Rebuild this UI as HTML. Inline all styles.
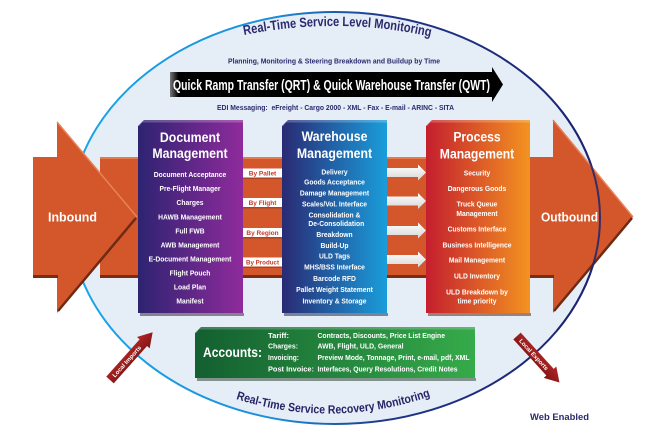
<!DOCTYPE html>
<html><head><meta charset="utf-8">
<style>
html,body{margin:0;padding:0;background:#fff;}
svg{display:block;}
text{font-family:"Liberation Sans",Arial,sans-serif;font-weight:bold;}
</style></head><body>
<svg width="650" height="436" viewBox="0 0 650 436" xmlns="http://www.w3.org/2000/svg">
<defs>
 <linearGradient id="ell" x1="0" y1="0" x2="1" y2="0">
  <stop offset="0" stop-color="#1aa6ea"/>
  <stop offset="0.38" stop-color="#1a8fda"/>
  <stop offset="0.6" stop-color="#1f3489"/>
  <stop offset="1" stop-color="#1b2470"/>
 </linearGradient>
 <linearGradient id="doc" x1="0" x2="1" y1="0" y2="0">
  <stop offset="0" stop-color="#2e2371"/>
  <stop offset="1" stop-color="#8f2b9c"/>
 </linearGradient>
 <linearGradient id="wh" x1="0" x2="1" y1="0" y2="0">
  <stop offset="0" stop-color="#292a74"/>
  <stop offset="1" stop-color="#1a9ddb"/>
 </linearGradient>
 <linearGradient id="pm" x1="0" x2="1" y1="0" y2="0">
  <stop offset="0" stop-color="#c41f2e"/>
  <stop offset="1" stop-color="#f39321"/>
 </linearGradient>
 <linearGradient id="acc" x1="0" x2="1" y1="0" y2="0">
  <stop offset="0" stop-color="#135f30"/>
  <stop offset="1" stop-color="#36ab4a"/>
 </linearGradient>
 <linearGradient id="blk" x1="0" x2="1" y1="0" y2="0">
  <stop offset="0" stop-color="#777"/>
  <stop offset="0.025" stop-color="#000"/>
  <stop offset="1" stop-color="#000"/>
 </linearGradient>
 <linearGradient id="warr" x1="0" y1="0" x2="0" y2="1">
  <stop offset="0" stop-color="#ffffff"/>
  <stop offset="1" stop-color="#d6d6d6"/>
 </linearGradient>
 <linearGradient id="red" x1="0" y1="0" x2="0" y2="1">
  <stop offset="0" stop-color="#b32626"/>
  <stop offset="1" stop-color="#7e1414"/>
 </linearGradient>
 <clipPath id="rclip"><rect x="540" y="110" width="110" height="220"/></clipPath>
 <path id="toparc" d="M244 35 Q340 16 432 37"/>
 <path id="botarc" d="M236 399 Q334 430 434 395"/>
</defs>

<!-- main ellipse -->
<ellipse cx="335" cy="218" rx="265" ry="206" fill="#e5edf6" stroke="url(#ell)" stroke-width="2"/>

<!-- top texts -->
<text font-size="13.5" fill="#2b2a6e"><textPath href="#toparc" textLength="188" lengthAdjust="spacingAndGlyphs">Real-Time Service Level Monitoring</textPath></text>
<text x="228" y="63.5" font-size="7.5" fill="#2b2a6e" textLength="212" lengthAdjust="spacingAndGlyphs">Planning, Monitoring &amp; Steering Breakdown and Buildup by Time</text>

<!-- black arrow -->
<path d="M170 72 H492 V67 L503 84.5 L492 102 V97 H170 Z" fill="url(#blk)"/>
<text x="173" y="90" font-size="14.5" fill="#fff" textLength="317" lengthAdjust="spacingAndGlyphs">Quick Ramp Transfer (QRT) &amp; Quick Warehouse Transfer (QWT)</text>

<text x="217" y="110" font-size="7" fill="#2b2a6e" textLength="237" lengthAdjust="spacingAndGlyphs" xml:space="preserve">EDI Messaging:  eFreight - Cargo 2000 - XML - Fax - E-mail - ARINC - SITA</text>

<!-- orange band & arrows -->
<rect x="100" y="157" width="455" height="120" fill="#d4562b"/>
<rect x="100" y="157" width="455" height="2" fill="#e47a4e"/>
<rect x="100" y="275" width="455" height="3" fill="#7a2d12"/>
<path d="M33 157 H57 V122 L137 217 L57 313 V277 H33 Z" fill="#d4562b"/>
<path d="M57 122 L137 217" stroke="#e8825a" stroke-width="1.5"/>
<path d="M58 311 L136 218" stroke="#6e2a12" stroke-width="2.5"/>
<rect x="33" y="275" width="25" height="3" fill="#7a2d12"/>
<path d="M530 157 H553 V120 L633 217 L553 313 V277 H530 Z" fill="#d4562b"/>
<path d="M553 120 L633 217" stroke="#e8825a" stroke-width="1.5"/>
<path d="M554 311 L632 218" stroke="#6e2a12" stroke-width="2.5"/>
<rect x="530" y="275" width="24" height="3" fill="#7a2d12"/>

<!-- ellipse stroke over outbound arrow -->
<g clip-path="url(#rclip)">
<ellipse cx="335" cy="218" rx="265" ry="206" fill="none" stroke="#1b2470" stroke-width="2" opacity="0.85"/>
</g>

<text x="48" y="221.3" font-size="12.5" fill="#fff" textLength="49" lengthAdjust="spacingAndGlyphs">Inbound</text>
<text x="541" y="221.3" font-size="12.5" fill="#fff" textLength="57" lengthAdjust="spacingAndGlyphs">Outbound</text>

<!-- By labels -->
<g font-size="6.5" fill="#c43a26" text-anchor="middle">
 <rect x="243" y="168.5" width="39" height="9" fill="#fff"/><rect x="243" y="177.5" width="39" height="1.5" fill="#8a3a20" opacity="0.6"/>
 <text x="262.5" y="175.5">By Pallet</text>
 <rect x="243" y="198" width="39" height="9" fill="#fff"/><rect x="243" y="207" width="39" height="1.5" fill="#8a3a20" opacity="0.6"/>
 <text x="262.5" y="205">By Flight</text>
 <rect x="243" y="228" width="39" height="9" fill="#fff"/><rect x="243" y="237" width="39" height="1.5" fill="#8a3a20" opacity="0.6"/>
 <text x="262.5" y="235">By Region</text>
 <rect x="243" y="257.5" width="39" height="9" fill="#fff"/><rect x="243" y="266.5" width="39" height="1.5" fill="#8a3a20" opacity="0.6"/>
 <text x="262.5" y="264.5" textLength="33" lengthAdjust="spacingAndGlyphs">By Product</text>
</g>

<!-- white arrows -->
<g fill="url(#warr)">
 <path d="M387 168 H418 V164.5 L426 172.5 L418 180.5 V177 H387 Z"/>
 <path d="M387 196.5 H418 V193 L426 201 L418 209 V205.5 H387 Z"/>
 <path d="M387 226 H418 V222.5 L426 230.5 L418 238.5 V235 H387 Z"/>
 <path d="M387 255 H418 V251.5 L426 259.5 L418 267.5 V264 H387 Z"/>
</g>

<!-- Document box -->
<rect x="140" y="313" width="104" height="3" fill="#3a2a40" opacity="0.55"/>
<path d="M144 120 H243 V313 H138 V126 Z" fill="url(#doc)"/>
<path d="M144 120 H243 V122.5 H142 L139.5 126 H138 Z" fill="#fff" opacity="0.22"/>
<g transform="translate(190,0) scale(0.88,1)" fill="#fff" text-anchor="middle" font-size="14">
 <text x="0" y="142">Document</text>
 <text x="0" y="158">Management</text>
</g>
<g transform="translate(190,0) scale(0.9,1)" fill="#fff" text-anchor="middle" font-size="7.5">
 <text x="0" y="177">Document Acceptance</text>
 <text x="0" y="191">Pre-Flight Manager</text>
 <text x="0" y="205">Charges</text>
 <text x="0" y="219.4">HAWB Management</text>
 <text x="0" y="233.4">Full FWB</text>
 <text x="0" y="247.4">AWB Management</text>
 <text x="0" y="261.4">E-Document Management</text>
 <text x="0" y="275.4">Flight Pouch</text>
 <text x="0" y="289.4">Load Plan</text>
 <text x="0" y="303.4">Manifest</text>
</g>

<!-- Warehouse box -->
<rect x="284" y="313" width="104" height="3" fill="#1d2a50" opacity="0.55"/>
<path d="M288 120 H387 V313 H282 V126 Z" fill="url(#wh)"/>
<path d="M288 120 H387 V122.5 H286 L283.5 126 H282 Z" fill="#fff" opacity="0.22"/>
<g transform="translate(334.5,0) scale(0.88,1)" fill="#fff" text-anchor="middle" font-size="14">
 <text x="0" y="141">Warehouse</text>
 <text x="0" y="158">Management</text>
</g>
<g transform="translate(334.5,0) scale(0.9,1)" fill="#fff" text-anchor="middle" font-size="7.5">
 <text x="0" y="174.4">Delivery</text>
 <text x="0" y="184.7">Goods Acceptance</text>
 <text x="0" y="195.7">Damage Management</text>
 <text x="0" y="206.7">Scales/Vol. Interface</text>
 <text x="0" y="217.7">Consolidation &amp;</text>
 <text x="2" y="226">De-Consolidation</text>
 <text x="0" y="237">Breakdown</text>
 <text x="0" y="248">Build-Up</text>
 <text x="0" y="258.7">ULD Tags</text>
 <text x="0" y="269.7">MHS/BSS Interface</text>
 <text x="0" y="281">Barcode RFD</text>
 <text x="0" y="292">Pallet Weight Statement</text>
 <text x="0" y="303.4">Inventory &amp; Storage</text>
</g>

<!-- Process box -->
<rect x="428" y="313" width="103" height="3" fill="#5a2a14" opacity="0.55"/>
<path d="M432 120 H530 V313 H426 V126 Z" fill="url(#pm)"/>
<path d="M432 120 H530 V122.5 H430 L427.5 126 H426 Z" fill="#fff" opacity="0.22"/>
<g transform="translate(477,0) scale(0.87,1)" fill="#fff" text-anchor="middle" font-size="14">
 <text x="0" y="141.7">Process</text>
 <text x="0" y="158.3">Management</text>
</g>
<g transform="translate(477,0) scale(0.9,1)" fill="#fff" text-anchor="middle" font-size="7.5">
 <text x="0" y="175.4">Security</text>
 <text x="0" y="191">Dangerous Goods</text>
 <text x="0" y="206.7">Truck Queue</text>
 <text x="0" y="216">Management</text>
 <text x="0" y="231.7">Customs Interface</text>
 <text x="0" y="247.4">Business Intelligence</text>
 <text x="0" y="262.7">Mail Management</text>
 <text x="0" y="278.4">ULD Inventory</text>
 <text x="0" y="294.4">ULD Breakdown by</text>
 <text x="0" y="303.7">time priority</text>
</g>

<!-- Accounts box -->
<rect x="197" y="378" width="279" height="3" fill="#1d3a22" opacity="0.5"/>
<path d="M201 327 H475 V378 H195 V333 Z" fill="url(#acc)"/>
<path d="M201 327 H475 V329.5 H199 L196.5 333 H195 Z" fill="#fff" opacity="0.2"/>
<text x="203" y="357" font-size="14" fill="#fff" textLength="59" lengthAdjust="spacingAndGlyphs">Accounts:</text>
<g font-size="7" fill="#fff">
 <text x="268" y="338" textLength="21" lengthAdjust="spacingAndGlyphs">Tariff:</text>
 <text x="268" y="348.5" textLength="30" lengthAdjust="spacingAndGlyphs">Charges:</text>
 <text x="268" y="360" textLength="31" lengthAdjust="spacingAndGlyphs">Invoicing:</text>
 <text x="268" y="371.5" textLength="46" lengthAdjust="spacingAndGlyphs">Post Invoice:</text>
 <text x="317.5" y="338" textLength="127.5" lengthAdjust="spacingAndGlyphs">Contracts, Discounts, Price List Engine</text>
 <text x="317.5" y="348.5" textLength="86" lengthAdjust="spacingAndGlyphs">AWB, Flight, ULD, General</text>
 <text x="317.5" y="360" textLength="152" lengthAdjust="spacingAndGlyphs">Preview Mode, Tonnage, Print, e-mail, pdf, XML</text>
 <text x="317.5" y="371.5" textLength="140" lengthAdjust="spacingAndGlyphs">Interfaces, Query Resolutions, Credit Notes</text>
</g>

<!-- Local Imports arrow -->
<g transform="translate(110,380) rotate(-48.2)">
 <path d="M0 -5 H50 V-8.5 L64 0 L50 8.5 V5 H0 Z" fill="url(#red)"/>
 <text x="5" y="2.2" font-size="6" fill="#fff" textLength="40" lengthAdjust="spacingAndGlyphs">Local Imports</text>
</g>

<!-- Local Exports arrow -->
<g transform="translate(517,336) rotate(47.6)">
 <path d="M0 -5 H49 V-8.5 L63 0 L49 8.5 V5 H0 Z" fill="url(#red)"/>
 <text x="5" y="2.2" font-size="6" fill="#fff" textLength="40" lengthAdjust="spacingAndGlyphs">Local Exports</text>
</g>

<!-- bottom text -->
<text font-size="12" fill="#262466"><textPath href="#botarc" textLength="198" lengthAdjust="spacingAndGlyphs">Real-Time Service Recovery Monitoring</textPath></text>

<text x="530" y="420" font-size="9.5" fill="#2b2a6e" textLength="59" lengthAdjust="spacingAndGlyphs">Web Enabled</text>
</svg>
</body></html>
